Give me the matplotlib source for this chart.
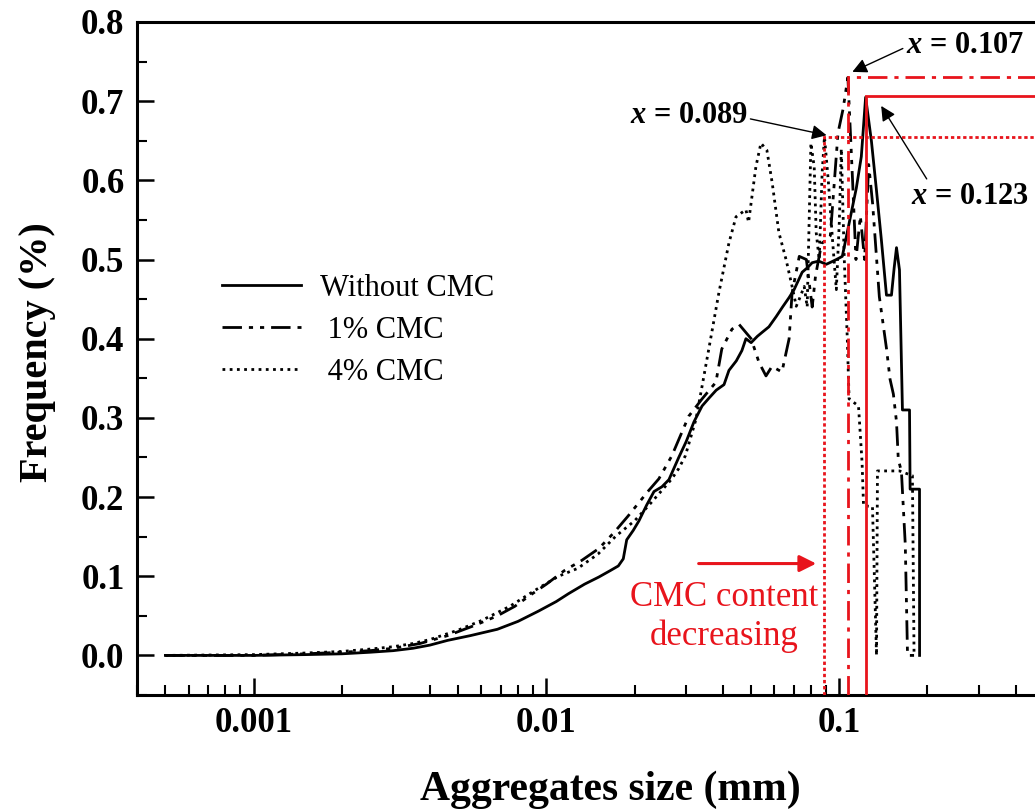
import matplotlib
matplotlib.use("Agg")
import matplotlib.pyplot as plt
from matplotlib.ticker import FixedLocator, FixedFormatter, LogLocator, NullFormatter, MultipleLocator

plt.rcParams["font.family"] = ["Liberation Serif", "DejaVu Serif"]
plt.rcParams["mathtext.fontset"] = "custom"
plt.rcParams["mathtext.it"] = "Liberation Serif:italic:bold"
plt.rcParams["mathtext.rm"] = "Liberation Serif:bold"

# Particle size distribution (aggregate size in mm, frequency in %)
size_none = [0.0005, 0.001, 0.0015, 0.002, 0.0025, 0.003, 0.0035, 0.004, 0.0046, 0.0055,
             0.0068, 0.008, 0.0094, 0.0108, 0.0119, 0.0135, 0.0151, 0.0165, 0.0176, 0.0183,
             0.0188, 0.0198, 0.0207, 0.0220, 0.0233, 0.0248, 0.0262, 0.0283, 0.0300, 0.0319,
             0.0340, 0.0359, 0.0380, 0.0404, 0.0420, 0.0445, 0.0465, 0.0480, 0.0500, 0.0525,
             0.0545, 0.0575, 0.0609, 0.0640, 0.0674, 0.0701, 0.0747, 0.0780, 0.0808, 0.0850,
             0.0903, 0.0940, 0.0977, 0.1024, 0.1082, 0.1143, 0.1189, 0.123, 0.1287, 0.1339,
             0.1392, 0.1449, 0.1507, 0.1540, 0.1568, 0.1605, 0.1643, 0.1737, 0.1745, 0.1879,
             0.1880]
freq_none = [0.0, 0.0, 0.001, 0.002, 0.004, 0.006, 0.009, 0.013, 0.019, 0.025,
             0.033, 0.043, 0.056, 0.068, 0.078, 0.090, 0.099, 0.107, 0.113, 0.122,
             0.146, 0.158, 0.170, 0.190, 0.207, 0.213, 0.222, 0.250, 0.270, 0.295,
             0.315, 0.325, 0.335, 0.342, 0.360, 0.372, 0.385, 0.400, 0.395, 0.403,
             0.408, 0.415, 0.428, 0.440, 0.452, 0.462, 0.484, 0.490, 0.496, 0.498,
             0.494, 0.497, 0.500, 0.504, 0.547, 0.590, 0.630, 0.705, 0.650, 0.588,
             0.525, 0.455, 0.455, 0.490, 0.515, 0.487, 0.310, 0.310, 0.210, 0.210,
             0.0]

size_1pct = [0.0005, 0.001, 0.0015, 0.002, 0.0025, 0.003, 0.0037, 0.0046, 0.0057, 0.0068,
             0.0078, 0.0088, 0.0100, 0.0115, 0.0132, 0.0151, 0.0170, 0.0190, 0.0222, 0.0242,
             0.0268, 0.0306, 0.0340, 0.0379, 0.0397, 0.0430, 0.0455, 0.0500, 0.0532, 0.0562,
             0.0589, 0.0637, 0.0674, 0.0690, 0.0730, 0.0772, 0.0808, 0.0830, 0.0870, 0.0932,
             0.0990, 0.1030, 0.107, 0.1110, 0.1140, 0.1180, 0.1220, 0.1260, 0.1300, 0.1370,
             0.1450, 0.1490, 0.1530, 0.1568, 0.1590, 0.1630, 0.1680, 0.1710, 0.1880]
freq_1pct = [0.0, 0.0, 0.002, 0.004, 0.006, 0.009, 0.015, 0.025, 0.038, 0.050,
             0.062, 0.076, 0.090, 0.107, 0.120, 0.135, 0.155, 0.176, 0.207, 0.223,
             0.252, 0.302, 0.324, 0.345, 0.387, 0.412, 0.418, 0.400, 0.370, 0.353,
             0.365, 0.358, 0.400, 0.458, 0.504, 0.500, 0.440, 0.480, 0.520, 0.530,
             0.660, 0.690, 0.730, 0.600, 0.500, 0.555, 0.500, 0.620, 0.570, 0.453,
             0.387, 0.349, 0.330, 0.295, 0.248, 0.232, 0.140, 0.0, 0.0]

size_4pct = [0.0005, 0.001, 0.0015, 0.002, 0.0025, 0.003, 0.0035, 0.0040, 0.0050, 0.0060,
             0.0075, 0.0094, 0.0110, 0.0128, 0.0150, 0.0173, 0.0200, 0.0223, 0.0250, 0.0268,
             0.0283, 0.0298, 0.0324, 0.0340, 0.0367, 0.0388, 0.0420, 0.0444, 0.0480, 0.0490,
             0.0519, 0.0540, 0.0566, 0.0590, 0.0622, 0.0658, 0.0690, 0.0713, 0.0730, 0.0759,
             0.0777, 0.0800, 0.0821, 0.0834, 0.0854, 0.0874, 0.0890, 0.0917, 0.0948, 0.0977,
             0.1000, 0.1016, 0.1040, 0.1065, 0.1080, 0.1163, 0.1196, 0.1210, 0.1298, 0.1340,
             0.1350, 0.1605, 0.1777, 0.1800]
freq_4pct = [0.0, 0.001, 0.003, 0.005, 0.008, 0.011, 0.015, 0.020, 0.032, 0.044,
             0.062, 0.085, 0.100, 0.110, 0.128, 0.151, 0.170, 0.189, 0.210, 0.223,
             0.236, 0.252, 0.298, 0.340, 0.408, 0.458, 0.521, 0.554, 0.563, 0.547,
             0.617, 0.647, 0.638, 0.597, 0.534, 0.500, 0.466, 0.441, 0.450, 0.466,
             0.440, 0.647, 0.617, 0.534, 0.500, 0.610, 0.655, 0.600, 0.525, 0.462,
             0.547, 0.640, 0.500, 0.400, 0.324, 0.315, 0.244, 0.189, 0.188, 0.0,
             0.233, 0.233, 0.227, 0.0]

# Peak positions marked with guide lines
peak_size = [0.089, 0.107, 0.123]
peak_freq = [0.655, 0.730, 0.707]
peak_text = ["0.089", "0.107", "0.123"]

series_labels = ["Without CMC", " 1% CMC", " 4% CMC"]
x_ticks = [0.001, 0.01, 0.1]
x_tick_labels = ["0.001", "0.01", "0.1"]

x_min, x_max = 0.0004, 0.5
y_min, y_max = -0.05, 0.8

fig = plt.figure(figsize=(10.35, 8.09), dpi=100)
ax = fig.add_axes([137 / 1035, 1 - 695 / 809, (1044 - 137) / 1035, (695 - 22) / 809])

dashdotdot = (0, (7, 2.5, 1.5, 2.5, 1.5, 2.5))
ax.plot(size_none, freq_none, color="black", lw=2.0, ls="-", label=series_labels[0])
ax.plot(size_1pct, freq_1pct, color="black", lw=2.0, ls=dashdotdot, label=series_labels[1])
ax.plot(size_4pct, freq_4pct, color="black", lw=2.0, ls=(0, (1, 1.6)), label=series_labels[2])

# Red guide lines at the peak of each curve
red_styles = [(0, (1.2, 1.0)), (0, (7, 2.5, 1.5, 2.5)), "-"]
for xs, ys, st in zip(peak_size, peak_freq, red_styles):
    ax.plot([xs, xs, x_max * 2], [y_min, ys, ys], color="#e8141c", lw=2.0, ls=st,
            solid_joinstyle="miter", dash_joinstyle="miter", zorder=3, clip_on=True)

ax.set_xscale("log")
ax.set_xlim(x_min, x_max)
ax.set_ylim(y_min, y_max)

ax.xaxis.set_major_locator(FixedLocator(x_ticks))
ax.xaxis.set_major_formatter(FixedFormatter(x_tick_labels))
ax.xaxis.set_minor_locator(LogLocator(base=10, subs=range(2, 10)))
ax.xaxis.set_minor_formatter(NullFormatter())
ax.yaxis.set_major_locator(MultipleLocator(0.1))
ax.yaxis.set_minor_locator(MultipleLocator(0.05))
ax.yaxis.set_major_formatter(plt.FuncFormatter(lambda v, p: f"{v:.1f}"))
ax.set_yticks([0.0, 0.1, 0.2, 0.3, 0.4, 0.5, 0.6, 0.7, 0.8])

ax.tick_params(axis="both", which="major", direction="in", length=12, width=1.8,
               labelsize=25, pad=9)
ax.tick_params(axis="both", which="minor", direction="in", length=7, width=1.5)
for lab in ax.get_xticklabels() + ax.get_yticklabels():
    lab.set_fontweight("bold")
for sp in ax.spines.values():
    sp.set_linewidth(2.2)

ax.set_xlabel("Aggregates size (mm)", fontsize=30, fontweight="bold")
ax.set_ylabel("Frequency (%)", fontsize=29, fontweight="bold")
ax.xaxis.set_label_coords((610 - 137) / 907, -(790 - 695) / 673)
ax.yaxis.set_label_coords(-(137 - 38) / 907, (695 - 352) / 673)
ax.xaxis.label.set_va("center")
ax.yaxis.label.set_va("center")

leg = ax.legend(loc="upper left", bbox_to_anchor=((222 - 137) / 907, (695 - 274) / 673),
                frameon=False, fontsize=22, handlelength=2.6, handletextpad=0.6,
                labelspacing=0.42, borderpad=0, borderaxespad=0)

# Peak annotations
arrow_kw = dict(arrowstyle="-|>", color="black", lw=1.0, mutation_scale=22,
                shrinkA=0, shrinkB=0)
ax.annotate(r"$x$ = " + peak_text[1], xy=(0.1108, 0.737), xytext=(0.268, 0.770),
            fontsize=22, fontweight="bold", ha="center", va="center",
            arrowprops=dict(arrow_kw, relpos=(0.0, 0.45)))
ax.annotate(r"$x$ = " + peak_text[0], xy=(0.0905, 0.657), xytext=(0.0306, 0.682),
            fontsize=22, fontweight="bold", ha="center", va="center",
            arrowprops=dict(arrow_kw, relpos=(1.0, 0.4)))
ax.annotate(r"$x$ = " + peak_text[2], xy=(0.139, 0.694), xytext=(0.2787, 0.580),
            fontsize=22, fontweight="bold", ha="center", va="center",
            arrowprops=dict(arrow_kw, relpos=(0.15, 1.0)))

# Trend note
ax.annotate("", xy=(0.0834, 0.116), xytext=(0.0331, 0.116),
            arrowprops=dict(arrowstyle="-|>", color="#e8141c", lw=2.2, mutation_scale=25,
                            shrinkA=0, shrinkB=0))
ax.text(0.0404, 0.063, "CMC content", color="#e8141c", fontsize=25,
        ha="center", va="baseline")
ax.text(0.0404, 0.0126, "decreasing", color="#e8141c", fontsize=25,
        ha="center", va="baseline")

fig.savefig("out.png", dpi=100)
